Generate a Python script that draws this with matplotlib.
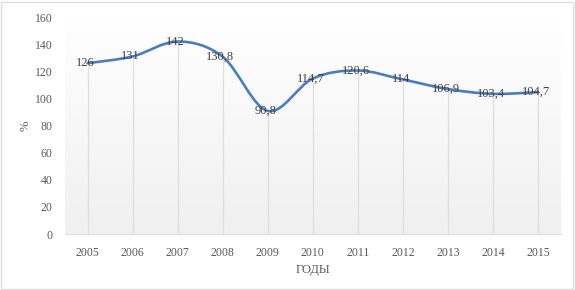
import matplotlib.pyplot as plt
import numpy as np
from matplotlib.path import Path
from matplotlib.patches import PathPatch, Rectangle

years = ["2005", "2006", "2007", "2008", "2009", "2010",
         "2011", "2012", "2013", "2014", "2015"]
values = [126, 131, 142, 130.8, 90.8, 114.7, 120.6, 114, 106.9, 103.4, 104.7]
value_labels = ["126", "131", "142", "130,8", "90,8", "114,7",
                "120,6", "114", "106,9", "103,4", "104,7"]
y_ticks = [0, 20, 40, 60, 80, 100, 120, 140, 160]

plt.rcParams.update({
    "font.family": ["Liberation Serif", "DejaVu Serif"],
})

LINE_COLOR = "#4a7cc0"
TEXT_COLOR = "#595959"
GRID_COLOR = "#dedede"


def smooth_path(xs, ys):
    # Excel-like smoothed line: cubic Bezier segments, tension 1/6
    pts = np.column_stack([xs, ys]).astype(float)
    n = len(pts)
    verts = [pts[0]]
    codes = [Path.MOVETO]
    for i in range(n - 1):
        p0 = pts[i - 1] if i > 0 else pts[i]
        p1 = pts[i]
        p2 = pts[i + 1]
        p3 = pts[i + 2] if i + 2 < n else pts[i + 1]
        c1 = p1 + (p2 - p0) / 6
        c2 = p2 - (p3 - p1) / 6
        verts += [c1, c2, p2]
        codes += [Path.CURVE4] * 3
    return Path(verts, codes)


fig = plt.figure(figsize=(5.75, 2.9), dpi=100)
ax = fig.add_axes([0.113, 0.193, 0.862, 0.748])

x = np.arange(len(years))
ax.set_xlim(-0.5, len(years) - 0.5)
ax.set_ylim(0, 160)

# gradient plot area background
grad = np.linspace(1.0, 0.0, 256).reshape(-1, 1)
ax.imshow(grad, extent=(-0.5, len(years) - 0.5, 0, 160), aspect="auto",
          cmap=plt.matplotlib.colors.LinearSegmentedColormap.from_list(
              "bg", ["#f0f0f0", "#ffffff"]),
          vmin=0, vmax=1, zorder=0, origin="upper")

# drop lines
ax.vlines(x, 0, values, color=GRID_COLOR, linewidth=0.9, zorder=1)

ax.add_patch(PathPatch(smooth_path(x, values), facecolor="none",
                       edgecolor=LINE_COLOR, linewidth=1.9, zorder=3,
                       capstyle="round"))

for xi, yi, lab in zip(x, values, value_labels):
    ax.text(xi - 0.05, yi, lab, ha="center", va="center", fontsize=9,
            color="#404040", zorder=4)

ax.set_xticks(x)
ax.set_xticklabels(years)
ax.set_yticks(y_ticks)
ax.tick_params(axis="both", length=0, labelsize=8.5, colors=TEXT_COLOR)
ax.tick_params(axis="x", pad=9)
ax.tick_params(axis="y", pad=9)
for s in ("top", "right", "left"):
    ax.spines[s].set_visible(False)
ax.spines["bottom"].set_color(GRID_COLOR)
ax.spines["bottom"].set_zorder(2)

ax.set_xlabel("ГОДЫ", fontsize=9, color=TEXT_COLOR, labelpad=4)
ax.set_ylabel("%", fontsize=9, color=TEXT_COLOR, labelpad=2)

fig.patches.append(Rectangle((0.002, 0.004), 0.994, 0.99,
                             transform=fig.transFigure, fill=False,
                             edgecolor=GRID_COLOR, linewidth=1.0))

fig.savefig("out.png", dpi=100)
